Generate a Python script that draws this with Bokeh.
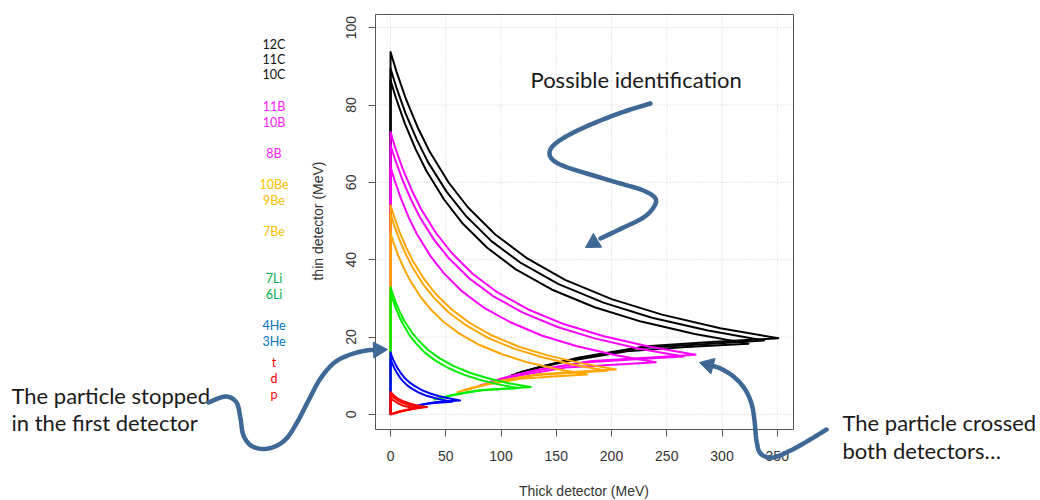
from bokeh.plotting import figure
from bokeh.models import Range1d, Label, PolyAnnotation, BoxAnnotation, LinearAxis, FixedTicker
from bokeh.embed import file_html
from bokeh.resources import INLINE

# ---------------- data ----------------
isotopes = ["12C", "11C", "10C", "11B", "10B", "8B", "10Be", "9Be", "7Be",
            "7Li", "6Li", "4He", "3He", "t", "d", "p"]
element_of = ["C", "C", "C", "B", "B", "B", "Be", "Be", "Be",
              "Li", "Li", "He", "He", "H", "H", "H"]

e_12C = [0, 0, 5.3, 14.0, 24.6, 35.1, 52.7, 70.2, 94.8, 122.9, 158.0, 200.1, 245.7, 298.4, 351,
         290, 231.7, 172, 142.2, 117.9]
de_12C = [0, 93.7, 88.7, 81.5, 74.2, 68.1, 59.9, 53.5, 46.5, 40.5, 34.8, 29.8, 25.8, 22.3, 19.7,
          18.7, 17.6, 14.8, 12.8, 10.9]
e_11C = [0, 0, 5.1, 13.5, 23.7, 33.8, 50.7, 67.6, 91.3, 118.3, 152.1, 192.7, 236.6, 287.3, 338,
         279.2, 223.1, 165.6, 136.9, 113.6]
de_11C = [0, 89.4, 84.7, 77.9, 71.1, 65.3, 57.6, 51.5, 44.8, 39.1, 33.7, 28.9, 25.0, 21.7, 19.1,
          18.1, 17.1, 14.3, 12.4, 10.6]
e_10C = [0, 0, 4.9, 13.0, 22.7, 32.4, 48.6, 64.8, 87.5, 113.4, 145.8, 184.7, 226.8, 275.4, 324,
         267.6, 213.8, 158.8, 131.2, 108.9]
de_10C = [0, 86.4, 81.8, 75.2, 68.6, 63.0, 55.5, 49.5, 43.1, 37.5, 32.3, 27.7, 24.0, 20.8, 18.3,
          17.4, 16.3, 13.7, 11.9, 10.1]

e_11B = [0, 0, 4.1, 11.0, 19.3, 27.6, 41.4, 55.2, 74.5, 96.6, 124.2, 157.3, 193.2, 234.6, 276,
         228, 182.2, 135.2, 111.8, 92.7]
de_11B = [0, 73.0, 69.1, 63.5, 57.9, 53.1, 46.8, 41.8, 36.3, 31.6, 27.2, 23.3, 20.2, 17.5, 15.4,
          14.6, 13.8, 11.6, 10.0, 8.5]
e_10B = [0, 0, 4.0, 10.6, 18.6, 26.5, 39.8, 53.0, 71.6, 92.8, 119.3, 151.1, 185.5, 225.3, 265,
         218.9, 174.9, 129.9, 107.3, 89.0]
de_10B = [0, 69.6, 66.0, 60.8, 55.5, 51.0, 45.0, 40.3, 35.1, 30.6, 26.4, 22.6, 19.6, 17.0, 15.0,
          14.2, 13.4, 11.3, 9.8, 8.3]
e_8B = [0, 0, 3.6, 9.6, 16.8, 24, 36, 48, 64.8, 84, 108, 136.8, 168, 204, 240,
        198.2, 158.4, 117.6, 97.2, 80.6]
de_8B = [0, 64.0, 60.6, 55.7, 50.7, 46.6, 41.0, 36.6, 31.8, 27.7, 23.9, 20.4, 17.7, 15.3, 13.5,
         12.8, 12.1, 10.1, 8.8, 7.5]

e_10Be = [0, 0, 3.1, 8.2, 14.3, 20.4, 30.6, 40.8, 55.1, 71.4, 91.8, 116.3, 142.8, 173.4, 204,
          168.5, 134.6, 100, 82.6, 68.5]
de_10Be = [0, 54.1, 51.3, 47.2, 43.1, 39.6, 34.9, 31.2, 27.2, 23.7, 20.4, 17.5, 15.2, 13.2, 11.6,
           11.0, 10.4, 8.7, 7.5, 6.4]
e_9Be = [0, 0, 2.9, 7.8, 13.7, 19.6, 29.4, 39.2, 52.9, 68.6, 88.2, 111.7, 137.2, 166.6, 196,
         161.9, 129.4, 96, 79.4, 65.9]
de_9Be = [0, 51.9, 49.2, 45.4, 41.5, 38.2, 33.7, 30.2, 26.3, 23.0, 19.8, 17.0, 14.8, 12.8, 11.3,
          10.7, 10.1, 8.5, 7.3, 6.2]
e_7Be = [0, 0, 2.7, 7.1, 12.5, 17.8, 26.7, 35.6, 48.1, 62.3, 80.1, 101.5, 124.6, 151.3, 178,
         147, 117.5, 87.2, 72.1, 59.8]
de_7Be = [0, 46.8, 44.4, 41.0, 37.5, 34.6, 30.6, 27.4, 23.9, 20.9, 18.0, 15.5, 13.4, 11.7, 10.3,
          9.8, 9.2, 7.7, 6.7, 5.7]

e_7Li = [0, 0, 1.9, 5.1, 8.9, 12.7, 19.1, 25.4, 34.3, 44.5, 57.2, 72.4, 88.9, 108, 127,
         104.9, 83.8, 62.2, 51.4, 42.7]
de_7Li = [0, 32.9, 31.2, 28.7, 26.2, 24.1, 21.3, 19.1, 16.6, 14.5, 12.5, 10.7, 9.3, 8.0, 7.1,
          6.7, 6.3, 5.3, 4.6, 3.9]
e_6Li = [0, 0, 1.7, 4.6, 8.1, 11.6, 17.4, 23.2, 31.3, 40.6, 52.2, 66.1, 81.2, 98.6, 116,
         95.8, 76.6, 56.8, 47, 39]
de_6Li = [0, 31.6, 30.0, 27.6, 25.2, 23.2, 20.4, 18.3, 15.9, 13.9, 12.0, 10.3, 8.9, 7.7, 6.8,
          6.5, 6.1, 5.1, 4.4, 3.8]

e_4He = [0, 0, 0.9, 2.5, 4.4, 6.3, 9.5, 12.6, 17.0, 22.1, 28.4, 35.9, 44.1, 53.6, 63,
         52, 41.6, 30.9, 25.5, 21.2]
de_4He = [0, 16.1, 15.3, 14.1, 13.0, 12.0, 10.6, 9.5, 8.3, 7.3, 6.3, 5.4, 4.7, 4.1, 3.6,
          3.4, 3.2, 2.7, 2.3, 2.0]
e_3He = [0, 0, 0.8, 2.2, 3.9, 5.6, 8.4, 11.2, 15.1, 19.6, 25.2, 31.9, 39.2, 47.6, 56,
         46.3, 37, 27.4, 22.7, 18.8]
de_3He = [0, 14.4, 13.7, 12.7, 11.7, 10.8, 9.6, 8.6, 7.5, 6.6, 5.7, 4.9, 4.3, 3.7, 3.3,
          3.1, 2.9, 2.5, 2.1, 1.8]

e_t = [0, 0, 1.3, 3.3, 6.6, 10.9, 16.5, 23.1, 28.1, 33, 22, 11, 0]
de_t = [0, 5.8, 5.4, 4.8, 4.1, 3.5, 2.9, 2.4, 2.1, 1.9, 1.5, 0.9, 0]
e_d = [0, 0, 1.1, 2.8, 5.6, 9.2, 14, 19.6, 23.8, 28, 19, 9, 0]
de_d = [0, 5.2, 4.8, 4.4, 3.8, 3.2, 2.7, 2.2, 2.0, 1.8, 1.4, 0.8, 0]
e_p = [0, 0, 0.9, 2.2, 4.4, 7.3, 11, 15.4, 18.7, 22, 15, 7, 0]
de_p = [0, 4.4, 4.1, 3.7, 3.3, 2.8, 2.3, 2.0, 1.8, 1.6, 1.2, 0.7, 0]

x_ticks = [0, 50, 100, 150, 200, 250, 300, 350]
y_ticks = [0, 20, 40, 60, 80, 100]

curves_e = [e_12C, e_11C, e_10C, e_11B, e_10B, e_8B, e_10Be, e_9Be, e_7Be,
            e_7Li, e_6Li, e_4He, e_3He, e_t, e_d, e_p]
curves_de = [de_12C, de_11C, de_10C, de_11B, de_10B, de_8B, de_10Be, de_9Be, de_7Be,
             de_7Li, de_6Li, de_4He, de_3He, de_t, de_d, de_p]

# ---------------- styles / layout ----------------
line_color = {"C": "#000000", "B": "#FF00FF", "Be": "#FFA500", "Li": "#00EE00",
              "He": "#0000FF", "H": "#FF0000"}
label_color = {"C": "#111111", "B": "#FF22FF", "Be": "#FFC000", "Li": "#00B050",
               "He": "#0070C0", "H": "#FF0000"}
label_py = [44, 59.3, 74.3, 106, 121.7, 153.3, 184.3, 200, 231, 278.3, 294,
            325, 341, 362.3, 378.3, 394]

X0, X1 = -13.6, 364.7          # plot box limits (data)
Y0, Y1 = -3.9, 103.4
FL, FR, FT, FB = 375, 793, 14, 429   # plot box in page pixels
W, H = 1040, 500


def dx(px):
    return X0 + (px - FL) * (X1 - X0) / (FR - FL)


def dy(py):
    return Y1 - (py - FT) * (Y1 - Y0) / (FB - FT)


p = figure(width=W, height=H, x_range=Range1d(dx(0), dx(W)), y_range=Range1d(dy(H), dy(0)),
           output_backend="svg", toolbar_location=None,
           x_axis_location=None, y_axis_location=None,
           min_border=0, min_border_left=0, min_border_right=0,
           min_border_top=0, min_border_bottom=0)
p.background_fill_color = "white"
p.border_fill_color = "white"
p.outline_line_color = None
p.grid.visible = False

AX = "#555555"
xax = LinearAxis(fixed_location=Y0, bounds=(0, 350), ticker=FixedTicker(ticks=x_ticks),
                 axis_label="Thick detector (MeV)")
yax = LinearAxis(fixed_location=X0, bounds=(0, 100), ticker=FixedTicker(ticks=y_ticks),
                 axis_label="thin detector (MeV)")
for ax in (xax, yax):
    ax.axis_line_color = AX
    ax.major_tick_line_color = AX
    ax.major_tick_out = 7
    ax.major_tick_in = 0
    ax.minor_tick_line_color = None
    ax.major_label_text_font = "Liberation Sans"
    ax.major_label_text_font_size = "14px"
    ax.major_label_text_color = "#333333"
    ax.axis_label_text_font = "Liberation Sans"
    ax.axis_label_text_font_size = "14px"
    ax.axis_label_text_font_style = "normal"
    ax.axis_label_text_color = "#333333"
yax.major_label_orientation = "vertical"
xax.major_label_standoff = 14
yax.major_label_standoff = 12
xax.axis_label_standoff = 19
yax.axis_label_standoff = 18
p.add_layout(xax, "below")
p.add_layout(yax, "left")

# R-style dotted grid inside the box
p.segment(x0=x_ticks, y0=[Y0] * len(x_ticks), x1=x_ticks, y1=[Y1] * len(x_ticks),
          line_color="#d0d0d0", line_dash="1 2", line_width=1)
p.segment(x0=[X0] * len(y_ticks), y0=y_ticks, x1=[X1] * len(y_ticks), y1=y_ticks,
          line_color="#d0d0d0", line_dash="1 2", line_width=1)

for name, el, xs, ys in zip(isotopes, element_of, curves_e, curves_de):
    p.line(xs, ys, line_color=line_color[el], line_width=2, line_join="round")

p.add_layout(BoxAnnotation(left=X0, right=X1, bottom=Y0, top=Y1, fill_alpha=0,
                           fill_color=None, line_color=AX, line_alpha=1, line_width=1))

# isotope legend column
for name, el, py in zip(isotopes, element_of, label_py):
    p.add_layout(Label(x=dx(273.5), y=dy(py), text=name, text_font="Lato",
                       text_font_size="12.5px", text_color=label_color[el],
                       text_align="center", text_baseline="middle"))

# annotation texts
for txt, px, py in [("Possible identification", 530, 78.5),
                    ("The particle stopped", 11, 395),
                    ("in the first detector", 11, 421.5),
                    ("The particle crossed", 842, 421.5),
                    ("both detectors\u2026", 842, 449.5)]:
    p.add_layout(Label(x=dx(px), y=dy(py), text=txt, text_font="Lato",
                       text_font_size="22px", text_color="#1a1a1a",
                       text_align="left", text_baseline="alphabetic"))


def catmull(pts, n=8):
    out = []
    P = [pts[0]] + pts + [pts[-1]]
    for i in range(1, len(P) - 2):
        p0, p1, p2, p3 = P[i - 1], P[i], P[i + 1], P[i + 2]
        for k in range(n):
            t = k / n
            t2, t3 = t * t, t * t * t
            x = 0.5 * ((2 * p1[0]) + (-p0[0] + p2[0]) * t + (2 * p0[0] - 5 * p1[0] + 4 * p2[0] - p3[0]) * t2 + (-p0[0] + 3 * p1[0] - 3 * p2[0] + p3[0]) * t3)
            y = 0.5 * ((2 * p1[1]) + (-p0[1] + p2[1]) * t + (2 * p0[1] - 5 * p1[1] + 4 * p2[1] - p3[1]) * t2 + (-p0[1] + 3 * p1[1] - 3 * p2[1] + p3[1]) * t3)
            out.append((x, y))
    out.append(pts[-1])
    return out


ARROW = "#3E6896"


def curved_arrow(path, tip, head_len=14, head_half=8):
    pts = catmull(path)
    xs = [dx(q[0]) for q in pts]
    ys = [dy(q[1]) for q in pts]
    p.add_layout(PolyAnnotation(xs=xs + xs[::-1], ys=ys + ys[::-1], fill_alpha=0,
                                fill_color=None, line_color=ARROW, line_alpha=1,
                                line_width=4.5, line_join="round"))
    bx, by = path[-1]
    vx, vy = tip[0] - bx, tip[1] - by
    ln = (vx * vx + vy * vy) ** 0.5
    ux, uy = vx / ln, vy / ln
    base = (tip[0] - ux * head_len, tip[1] - uy * head_len)
    a = (base[0] - uy * head_half, base[1] + ux * head_half)
    b = (base[0] + uy * head_half, base[1] - ux * head_half)
    tri = [tip, a, b]
    p.add_layout(PolyAnnotation(xs=[dx(q[0]) for q in tri], ys=[dy(q[1]) for q in tri],
                                fill_color=ARROW, fill_alpha=1, line_color=ARROW,
                                line_alpha=1, line_width=1))


curved_arrow([(650, 103), (627, 110), (600, 120), (573, 132), (555, 143), (549, 152),
              (553, 160), (567, 167), (593, 175), (620, 183), (643, 190), (655, 198),
              (653, 207), (643, 217), (623, 227), (600, 238)], (585, 247))
curved_arrow([(208, 402), (225, 396), (236, 402), (240, 418), (243, 435), (252, 446),
              (268, 448), (284, 440), (296, 423), (308, 400), (320, 378), (334, 362),
              (350, 354), (366, 350), (374, 349.5)], (387, 349))
curved_arrow([(826, 429), (808, 440), (790, 450), (772, 457), (760, 453), (756, 440),
              (754, 420), (751, 403), (744, 388), (733, 376), (720, 368), (712, 365.5)],
             (699, 362))

open("out.html", "w").write(file_html(p, INLINE))
